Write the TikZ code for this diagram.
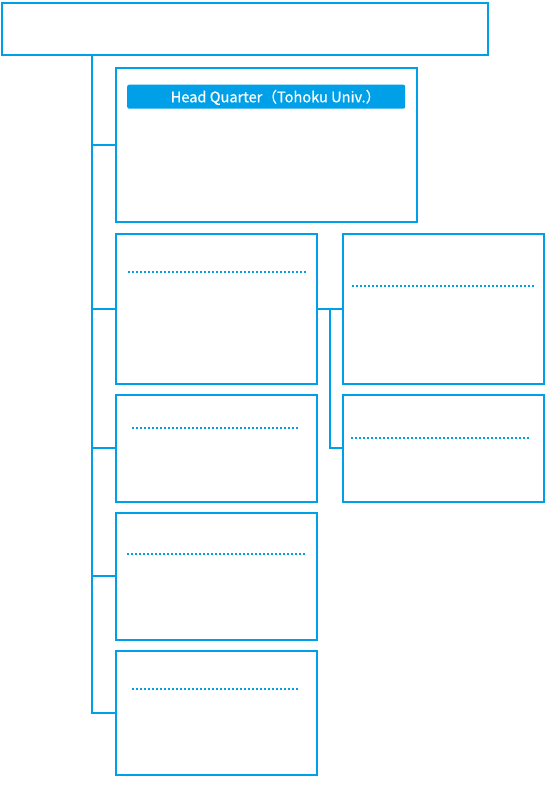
\documentclass[tikz,border=0pt]{standalone}
\usepackage{fontspec}
\newfontfamily\jpfont[FakeBold=0.6]{Noto Sans CJK JP}
\usetikzlibrary{calc}
\definecolor{cyanline}{RGB}{0,160,233}
\tikzset{
  orgbox/.style={draw=cyanline, line width=2pt, fill=white, inner sep=0pt, anchor=north west},
  conn/.style={draw=cyanline, line width=2pt},
  dotline/.style={draw=cyanline, line width=1.6pt, dash pattern=on 1.6pt off 2.4pt},
  labelbox/.style={fill=cyanline, draw=none, rounded corners=2pt, inner sep=0pt, anchor=north west},
  labeltext/.style={text=white, font=\jpfont\fontsize{14.6pt}{15pt}\selectfont, inner sep=0pt, anchor=base west}
}
\begin{document}
\begin{tikzpicture}[x=1pt,y=-1pt]
\useasboundingbox (0,0) rectangle (544,800);
% boxes
\node[orgbox, minimum width=485.5pt, minimum height=52.5pt] (top) at (1,2) {};
\node[orgbox, minimum width=301pt, minimum height=153.5pt] (hq) at (115,67) {};
\node[orgbox, minimum width=201pt, minimum height=150pt] (b1) at (115,233) {};
\node[orgbox, minimum width=201pt, minimum height=106.5pt] (b2) at (115,394) {};
\node[orgbox, minimum width=201pt, minimum height=126.5pt] (b3) at (115,512) {};
\node[orgbox, minimum width=201pt, minimum height=123.5pt] (b4) at (115,650) {};
\node[orgbox, minimum width=201pt, minimum height=150pt] (r1) at (342,233) {};
\node[orgbox, minimum width=201pt, minimum height=106.5pt] (r2) at (342,394) {};
% label
\node[labelbox, minimum width=278pt, minimum height=24pt] (hqlabel) at (127,84.5) {};
\node[labeltext] (hqtext) at (170.5,102.3) {Head Quarter（Tohoku Univ.）};
% connectors
\coordinate (trunktop) at ($(top.south west)+(91,0)$);
\draw[conn] (trunktop) |- (b4.west);
\draw[conn] (hq.west -| trunktop) -- (hq.west);
\draw[conn] (b1.west -| trunktop) -- (b1.west);
\draw[conn] (b2.west -| trunktop) -- (b2.west);
\draw[conn] (b3.west -| trunktop) -- (b3.west);
\draw[conn] (b1.east) -- (r1.west);
\coordinate (mid) at ($(b1.east)!0.5!(r1.west)$);
\draw[conn] (mid) |- (r2.west);
% dotted lines
\draw[dotline] (128,272) -- (306,272);
\draw[dotline] (132,428) -- (299,428);
\draw[dotline] (127,554) -- (306,554);
\draw[dotline] (132,689) -- (299,689);
\draw[dotline] (352,286) -- (535,286);
\draw[dotline] (351,438) -- (530,438);
\end{tikzpicture}
\end{document}
